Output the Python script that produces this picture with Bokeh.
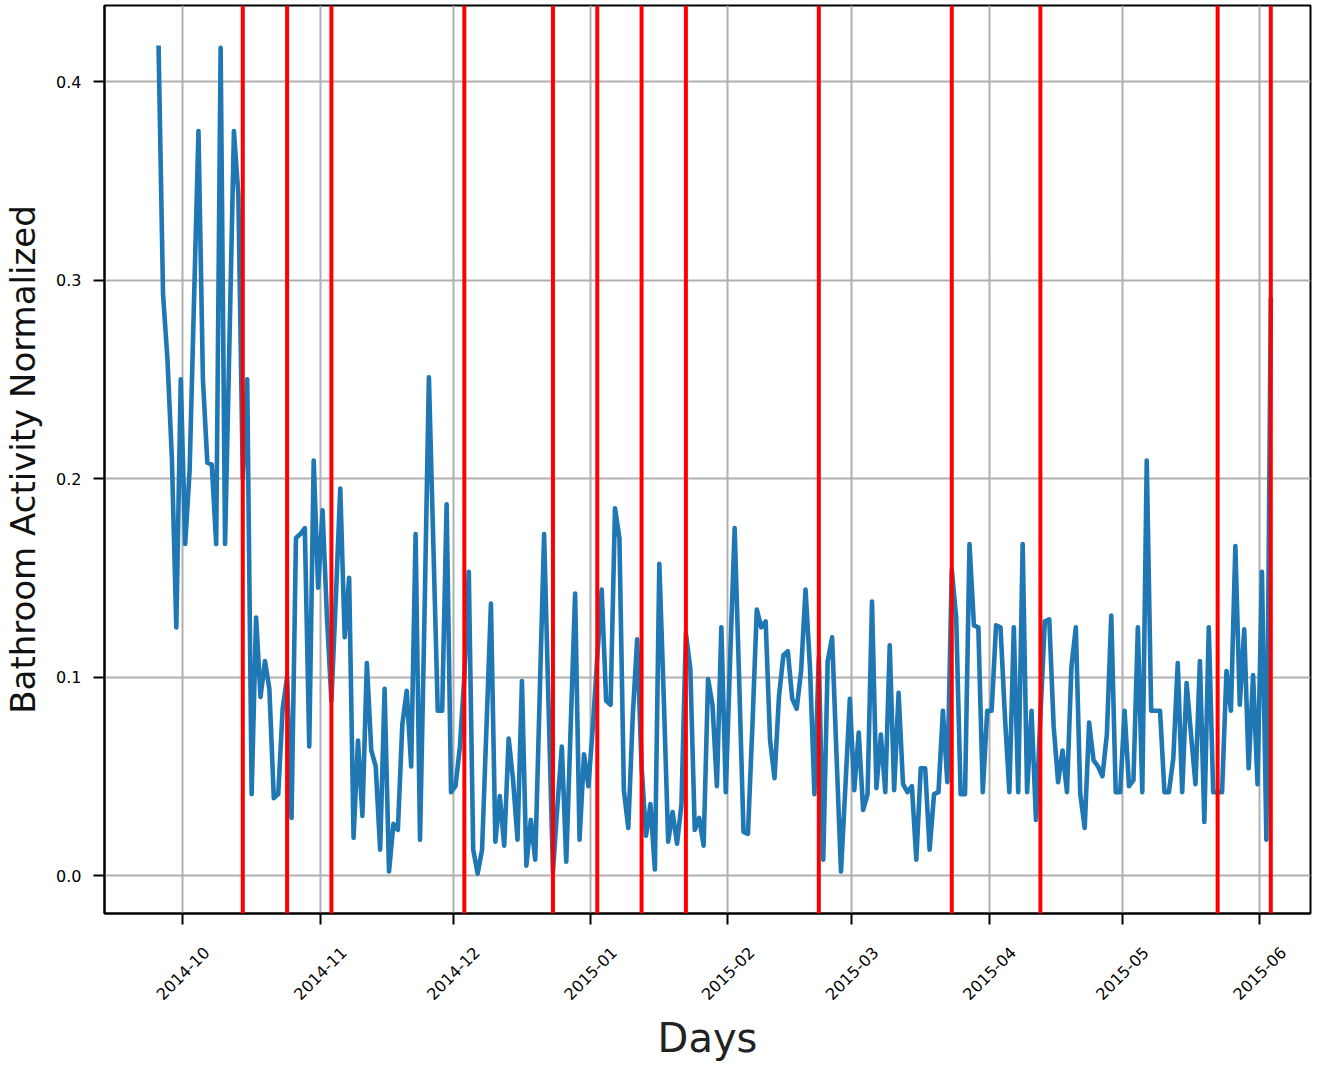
import pandas as pd
from math import pi
from bokeh.plotting import figure
from bokeh.models import (Range1d, FixedTicker, Span, DatetimeAxis, PrintfTickFormatter)
from bokeh.embed import file_html
from bokeh.resources import INLINE

# ---------------- data ----------------
start_date = "2014-09-25 13:00"
activity = [
    0.417, 0.293, 0.26, 0.21, 0.125, 0.25, 0.167, 0.204, 0.29, 0.375,
    0.25, 0.208, 0.207, 0.167, 0.417, 0.167, 0.27, 0.375, 0.343, 0.2,
    0.25, 0.041, 0.13, 0.09, 0.108, 0.094, 0.039, 0.041, 0.084, 0.1,
    0.029, 0.17, 0.172, 0.175, 0.065, 0.209, 0.145, 0.184, 0.13, 0.088,
    0.14, 0.195, 0.12, 0.15, 0.019, 0.068, 0.03, 0.107, 0.063, 0.055,
    0.013, 0.094, 0.002, 0.026, 0.023, 0.076, 0.093, 0.055, 0.172, 0.018,
    0.13, 0.251, 0.167, 0.083, 0.083, 0.187, 0.042, 0.045, 0.065, 0.1,
    0.153, 0.013, 0.001, 0.013, 0.075, 0.137, 0.017, 0.04, 0.015, 0.069,
    0.048, 0.018, 0.098, 0.005, 0.028, 0.008, 0.09, 0.172, 0.086, 0.002,
    0.035, 0.065, 0.007, 0.075, 0.142, 0.018, 0.061, 0.045, 0.075, 0.11,
    0.144, 0.088, 0.086, 0.185, 0.17, 0.043, 0.024, 0.08, 0.119, 0.055,
    0.02, 0.036, 0.003, 0.157, 0.09, 0.017, 0.032, 0.016, 0.036, 0.122,
    0.104, 0.023, 0.029, 0.015, 0.099, 0.086, 0.045, 0.125, 0.042, 0.11,
    0.175, 0.1, 0.022, 0.021, 0.075, 0.134, 0.125, 0.128, 0.068, 0.049,
    0.09, 0.111, 0.113, 0.089, 0.084, 0.103, 0.144, 0.105, 0.041, 0.11,
    0.008, 0.108, 0.12, 0.06, 0.002, 0.045, 0.089, 0.043, 0.072, 0.033,
    0.041, 0.138, 0.044, 0.071, 0.042, 0.116, 0.043, 0.092, 0.046, 0.042,
    0.045, 0.008, 0.054, 0.054, 0.013, 0.041, 0.042, 0.083, 0.047, 0.154,
    0.13, 0.041, 0.041, 0.167, 0.126, 0.125, 0.042, 0.083, 0.083, 0.126,
    0.125, 0.08, 0.042, 0.125, 0.042, 0.167, 0.042, 0.083, 0.028, 0.08,
    0.128, 0.129, 0.075, 0.047, 0.063, 0.042, 0.105, 0.125, 0.041, 0.024,
    0.077, 0.058, 0.055, 0.05, 0.071, 0.131, 0.042, 0.042, 0.083, 0.045,
    0.048, 0.125, 0.042, 0.209, 0.083, 0.083, 0.083, 0.042, 0.042, 0.059,
    0.107, 0.042, 0.097, 0.071, 0.046, 0.108, 0.027, 0.125, 0.042, 0.042,
    0.042, 0.103, 0.083, 0.166, 0.086, 0.124, 0.054, 0.101, 0.046, 0.153,
    0.018, 0.29,
]
event_dates = [
    "2014-10-14 13:00", "2014-10-24 13:00", "2014-11-03 13:00",
    "2014-12-03 13:00", "2014-12-23 13:00", "2015-01-02 13:00",
    "2015-01-12 13:00", "2015-01-22 13:00", "2015-02-21 13:00",
    "2015-03-23 13:00", "2015-04-12 13:00", "2015-05-22 13:00",
    "2015-06-03 13:00",
]
month_ticks = ["2014-10-01", "2014-11-01", "2014-12-01", "2015-01-01", "2015-02-01",
               "2015-03-01", "2015-04-01", "2015-05-01", "2015-06-01"]
month_labels = ["2014-10", "2014-11", "2014-12", "2015-01", "2015-02",
                "2015-03", "2015-04", "2015-05", "2015-06"]
y_ticks = [0.0, 0.1, 0.2, 0.3, 0.4]

x_window = ("2014-09-13 08:00", "2015-06-12 12:00")
y_window = (-0.01914, 0.43829)


def to_ms(s):
    return pd.Timestamp(s).value / 1e6


dates = pd.date_range(start_date, periods=len(activity), freq="D")
tick_ms = [to_ms(t) for t in month_ticks]
x0, x1 = to_ms(x_window[0]), to_ms(x_window[1])

FONT = "DejaVu Sans"

p = figure(width=1331, height=1067, x_axis_type="datetime",
           x_range=Range1d(x0, x1), y_range=Range1d(*y_window),
           output_backend="svg", toolbar_location=None,
           min_border_left=104, min_border_right=21,
           min_border_top=5, min_border_bottom=154)

p.background_fill_color = "white"
p.border_fill_color = "white"
p.outline_line_color = "black"
p.outline_line_width = 2

# grid
p.xgrid.grid_line_color = "#b0b0b0"
p.ygrid.grid_line_color = "#b0b0b0"
p.xgrid.grid_line_width = 2
p.ygrid.grid_line_width = 2

# main x axis: tick marks at the month starts
xax = p.xaxis[0]
xax.ticker = FixedTicker(ticks=tick_ms)
xax.major_label_overrides = {t: "" for t in tick_ms}
xax.major_label_standoff = 0

# y axis
yax = p.yaxis[0]
yax.ticker = FixedTicker(ticks=y_ticks)
yax.formatter = PrintfTickFormatter(format="%.1f")
yax.major_label_text_font = FONT
yax.major_label_text_font_size = "16px"
yax.major_label_text_color = "black"
yax.major_label_standoff = 12
yax.axis_label = "Bathroom Activity Normalized"
yax.axis_label_text_font = FONT
yax.axis_label_text_font_size = "34px"
yax.axis_label_text_font_style = "normal"
yax.axis_label_text_color = "#111111"
yax.axis_label_standoff = 10

for ax in (xax, yax):
    ax.axis_line_color = "black"
    ax.axis_line_width = 2
    ax.major_tick_line_color = "black"
    ax.major_tick_line_width = 2
    ax.major_tick_out = 11
    ax.major_tick_in = 0
    ax.minor_tick_line_color = None

# month labels: rotated 45 deg; Bokeh anchors a rotated label at its end, so the
# label axis uses a range shifted by half a label so each label is centred on its month
label_shift_days = 5.33
shift_ms = label_shift_days * 86400000
p.extra_x_ranges = {"month_labels": Range1d(x0 - shift_ms, x1 - shift_ms)}
lab_ax = DatetimeAxis(x_range_name="month_labels", ticker=FixedTicker(ticks=tick_ms))
lab_ax.major_label_overrides = dict(zip(tick_ms, month_labels))
lab_ax.major_label_orientation = pi / 4
lab_ax.major_label_text_font = FONT
lab_ax.major_label_text_font_size = "16px"
lab_ax.major_label_text_color = "black"
lab_ax.major_label_standoff = 25
lab_ax.axis_line_color = None
lab_ax.major_tick_line_color = None
lab_ax.minor_tick_line_color = None
lab_ax.major_tick_out = 0
lab_ax.major_tick_in = 0
lab_ax.axis_label = "Days"
lab_ax.axis_label_text_font = FONT
lab_ax.axis_label_text_font_size = "40px"
lab_ax.axis_label_text_font_style = "normal"
lab_ax.axis_label_text_color = "#222222"
lab_ax.axis_label_standoff = 7
p.add_layout(lab_ax, "below")

# data line
p.line(x=dates, y=activity, line_color="#1f77b4", line_width=4.6,
       line_join="round", line_cap="square")

# event markers
for d in event_dates:
    p.add_layout(Span(location=to_ms(d), dimension="height",
                      line_color="#ff0000", line_width=4))

open("out.html", "w").write(file_html(p, INLINE))
